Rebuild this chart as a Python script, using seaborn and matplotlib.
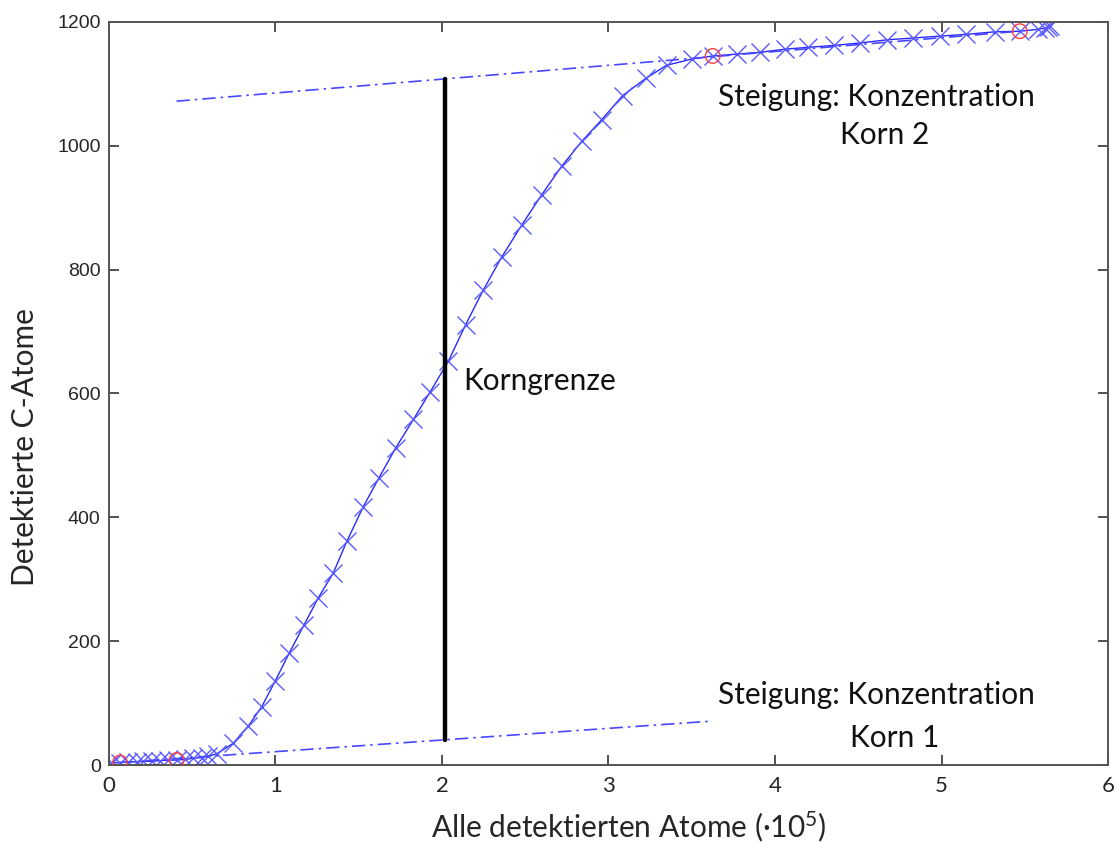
import numpy as np
import pandas as pd
import matplotlib
matplotlib.use("Agg")
import matplotlib.pyplot as plt
import seaborn as sns

# Cumulative atom counts (all atoms in units of 1e5, detected carbon atoms)
all_atoms = [0.0, 0.016, 0.066, 0.116, 0.166, 0.206, 0.256, 0.306, 0.356, 0.406,
             0.456, 0.506, 0.556, 0.596, 0.646, 0.746, 0.837, 0.917, 0.997, 1.083,
             1.171, 1.257, 1.347, 1.428, 1.527, 1.622, 1.722, 1.828, 1.928, 2.038,
             2.142, 2.248, 2.358, 2.479, 2.599, 2.719, 2.839, 2.959, 3.085, 3.225,
             3.349, 3.500, 3.626, 3.770, 3.910, 4.060, 4.200, 4.354, 4.510, 4.670,
             4.827, 4.990, 5.150, 5.320, 5.470, 5.580, 5.620, 5.640, 5.650]
c_atoms = [0, 3, 4, 5, 5, 6, 6, 7, 8, 8,
           9, 11, 12, 14, 18, 35, 63, 94, 135, 181,
           226, 270, 310, 361, 417, 464, 512, 558, 602, 652,
           711, 767, 820, 872, 921, 967, 1007, 1042, 1081, 1109,
           1130, 1140, 1145, 1148, 1151, 1156, 1159, 1162, 1166, 1171,
           1174, 1177, 1180, 1184, 1185, 1188, 1190, 1192, 1193]

# Points bounding the linear fits in each grain
fit_x = [0.066, 0.406, 3.626, 5.470]
fit_y = [4, 8, 1145, 1185]

# Linear fits: grain 1 (low slope) and grain 2 (upper plateau)
grain1_x = [0.066, 3.626]
grain1_y = [4, 71]
grain2_x = [0.406, 5.470]
grain2_y = [1072, 1185]

# Grain boundary position
boundary_x = 2.02
boundary_y = [41, 1108]

sns.set_theme(style="white")
plt.rcParams["font.family"] = ["Lato", "DejaVu Sans"]
plt.rcParams["mathtext.fontset"] = "custom"
plt.rcParams["mathtext.rm"] = "Lato"
plt.rcParams["mathtext.it"] = "Lato:italic"

fig = plt.figure(figsize=(11.2, 8.43), dpi=100)
ax = fig.add_axes([0.0973, 0.0925, 0.892, 0.8815])

curve = pd.DataFrame({"x": all_atoms, "y": c_atoms})
sns.lineplot(data=curve, x="x", y="y", ax=ax, sort=False, estimator=None,
             color="#2a2aff", linewidth=1.0, marker="x", markersize=13,
             markeredgewidth=1.0, markeredgecolor="#5a5aff")

dashdot = (0, (8, 3, 1.5, 3))
sns.lineplot(x=grain1_x, y=grain1_y, ax=ax, sort=False, estimator=None,
             color="#4848ff", linewidth=1.2, linestyle=dashdot)
sns.lineplot(x=grain2_x, y=grain2_y, ax=ax, sort=False, estimator=None,
             color="#4848ff", linewidth=1.2, linestyle=dashdot)

sns.scatterplot(x=fit_x, y=fit_y, ax=ax, marker="o", s=110,
                facecolor="none", edgecolor="#ff4040", linewidth=1.0, zorder=4)

sns.lineplot(x=[boundary_x, boundary_x], y=boundary_y, ax=ax, sort=False,
             estimator=None, color="black", linewidth=3.2)

ax.set_xlim(0, 6)
ax.set_ylim(0, 1200)
ax.set_xticks(range(0, 7))
ax.set_yticks(range(0, 1201, 200))

for side in ax.spines.values():
    side.set_color("#555555")
    side.set_linewidth(1.4)
ax.tick_params(axis="both", which="both", direction="in", length=7, width=1.2,
               color="#333333", top=True, right=True, bottom=True, left=True)
ax.tick_params(axis="y", labelsize=14, pad=6)
ax.tick_params(axis="x", labelsize=16, pad=8)
for lab in ax.get_yticklabels():
    lab.set_fontfamily(["Liberation Sans", "DejaVu Sans"])

ax.set_xlabel("Alle detektierten Atome (·10$^5$)", fontsize=21.5)
ax.set_ylabel("Detektierte C-Atome", fontsize=21.5)
ax.xaxis.set_label_coords(0.52, -0.083)
ax.yaxis.set_label_coords(-0.084, 0.428)
ax.xaxis.label.set_va("center")
ax.yaxis.label.set_va("center")

text_kw = dict(fontsize=21.5, color="#111111", va="center", ha="left")
ax.text(2.126, 620, "Korngrenze", **text_kw)
ax.text(3.658, 1079, "Steigung: Konzentration", **text_kw)
ax.text(4.39, 1018, "Korn 2", **text_kw)
ax.text(3.658, 113, "Steigung: Konzentration", **text_kw)
ax.text(4.45, 44, "Korn 1", **text_kw)

fig.savefig("out.png", dpi=100)
